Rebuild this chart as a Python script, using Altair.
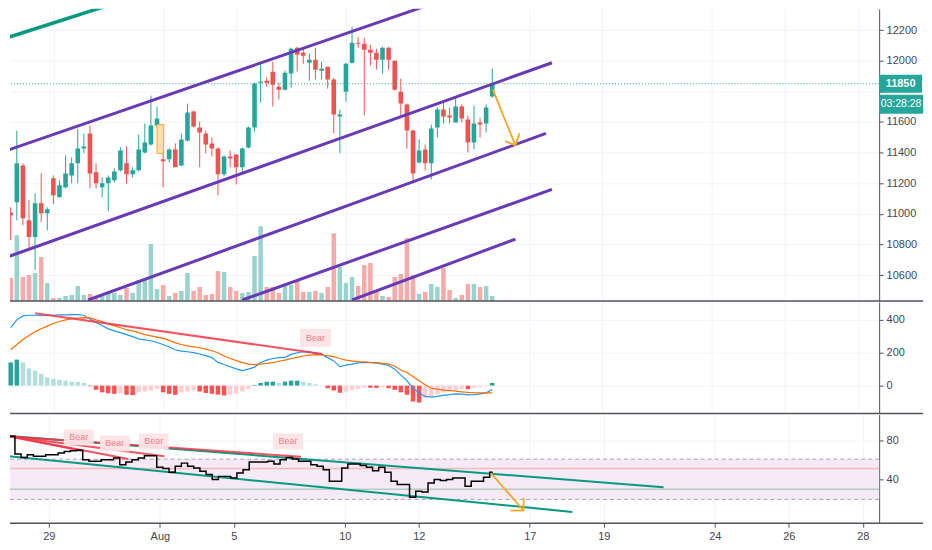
import altair as alt
import pandas as pd
import numpy as np

# ---------------- data (4h bars, index 0 = first bar of Jul 29) ----------------
bar_index = list(range(-7, 73))

opens = [11007, 11076, 11316, 10958, 10848, 11069, 11004, 11232, 11108, 11173,
         11251, 11330, 11427, 11525, 11271, 11173, 11199, 11219, 11284, 11330,
         11258, 11284, 11401, 11453, 11577, 11356, 11356, 11421, 11316, 11479,
         11668, 11564, 11525, 11460, 11427, 11258, 11375, 11388, 11304, 11434,
         11564, 11857, 11870, 11929, 11831, 11811, 11916, 12085, 12052, 11987,
         12007, 11935, 11961, 11877, 11636, 11798, 11987, 12117, 12111, 12072,
         12052, 12007, 12085, 12000, 11798, 11714, 11544, 11336, 11421, 11330,
         11564, 11681, 11642, 11597, 11701, 11616, 11466, 11597, 11590, 11766]
closes = [10991, 11330, 10971, 10848, 11069, 11004, 11030, 11121, 11186, 11264,
          11330, 11427, 11440, 11264, 11199, 11199, 11238, 11277, 11414, 11258,
          11284, 11421, 11466, 11577, 11623, 11343, 11421, 11304, 11486, 11662,
          11570, 11531, 11453, 11427, 11258, 11375, 11362, 11304, 11427, 11564,
          11851, 11864, 11857, 11844, 11811, 11922, 12078, 12039, 12033, 12007,
          11942, 11948, 11877, 11649, 11649, 11981, 12117, 12111, 12072, 12052,
          12007, 12085, 12007, 11811, 11720, 11544, 11264, 11414, 11330, 11557,
          11681, 11636, 11629, 11701, 11623, 11466, 11590, 11583, 11694, 11850]
highs = [11043, 11544, 11330, 11089, 11134, 11264, 11043, 11251, 11219, 11382,
         11369, 11557, 11525, 11577, 11330, 11238, 11251, 11297, 11434, 11440,
         11304, 11518, 11590, 11772, 11701, 11434, 11427, 11460, 11525, 11720,
         11675, 11603, 11544, 11499, 11434, 11382, 11414, 11388, 11434, 11570,
         11857, 11981, 11890, 11994, 11857, 11935, 12085, 12091, 12078, 12046,
         12085, 11994, 11961, 11890, 11681, 11987, 12222, 12157, 12150, 12104,
         12078, 12091, 12091, 12000, 11883, 11720, 11551, 11486, 11453, 11583,
         11694, 11740, 11694, 11759, 11714, 11642, 11707, 11629, 11714, 11948]
lows = [10828, 10958, 10926, 10776, 10633, 10945, 10893, 11063, 11108, 11167,
        11199, 11199, 11395, 11167, 11167, 11108, 11017, 11206, 11277, 11199,
        11238, 11277, 11395, 11447, 11564, 11173, 11336, 11304, 11310, 11473,
        11564, 11304, 11395, 11375, 11121, 11245, 11304, 11193, 11264, 11427,
        11538, 11727, 11831, 11701, 11746, 11805, 11824, 11929, 11981, 11870,
        11877, 11877, 11818, 11525, 11395, 11733, 11981, 12085, 11642, 11968,
        11942, 11916, 11942, 11805, 11629, 11427, 11199, 11330, 11284, 11225,
        11499, 11590, 11590, 11597, 11597, 11401, 11421, 11499, 11531, 11759]
volumes = [460, 1320, 480, 520, 560, 880, 360, 60, 60, 100,
           120, 300, 120, 140, 60, 140, 160, 160, 120, 260,
           160, 420, 420, 1140, 240, 320, 100, 160, 200, 560,
           200, 280, 120, 140, 600, 580, 280, 200, 160, 180,
           900, 1500, 280, 280, 160, 320, 320, 400, 180, 180,
           200, 160, 280, 1360, 680, 360, 480, 300, 720, 760,
           220, 100, 80, 480, 540, 1260, 520, 140, 180, 340,
           280, 660, 220, 60, 120, 340, 340, 280, 300, 100]

macd = [353, 400, 424, 428, 428, 425, 428, 428, 430, 430,
        432, 432, 428, 405, 384, 365, 345, 333, 322, 310,
        298, 284, 278, 273, 262, 250, 235, 218, 210, 206,
        201, 192, 182, 170, 141, 128, 115, 102, 91, 100,
        112, 141, 155, 165, 170, 172, 190, 200, 206, 205,
        198, 190, 170, 150, 115, 125, 131, 138, 141, 140,
        136, 131, 122, 100, 65, 30, -15, -45, -65, -70,
        -65, -60, -55, -50, -52, -56, -55, -50, -44, -24]
signal = [218, 250, 280, 305, 328, 346, 362, 378, 390, 400,
          407, 411, 414, 412, 400, 390, 375, 365, 352, 340,
          333, 322, 310, 302, 295, 287, 275, 260, 250, 242,
          236, 230, 222, 212, 200, 180, 165, 152, 140, 131,
          128, 131, 135, 140, 148, 155, 165, 172, 180, 185,
          188, 186, 182, 176, 165, 155, 150, 146, 144, 141,
          140, 135, 131, 118, 95, 80, 55, 30, 5, -16,
          -22, -28, -30, -34, -38, -41, -43, -44, -44, -44]
hist = [141, 158, 141, 105, 91, 71, 50, 41, 36, 30,
        24, 22, 16, -4, -26, -41, -47, -50, -48, -56,
        -58, -41, -36, -30, -20, -41, -50, -56, -41, -36,
        -30, -36, -45, -50, -55, -60, -55, -48, -36, -20,
        4, 16, 24, 24, 16, 24, 30, 30, 24, 16,
        8, 2, -16, -30, -44, -36, -26, -20, -12, -13,
        -14, -10, -16, -26, -41, -56, -97, -103, -75, -62,
        -52, -42, -33, -27, -20, -22, -13, -8, -4, 16]
rsi = [82.6, 84.0, 65.7, 62.3, 65.0, 63.4, 63.4, 65.0, 65.0, 66.7,
       68.4, 69.1, 69.5, 60.0, 58.3, 58.3, 60.0, 60.0, 61.6, 54.9,
       57.6, 60.0, 61.6, 64.0, 64.0, 52.2, 50.9, 47.1, 53.2, 56.5,
       53.2, 51.5, 48.1, 44.8, 39.7, 43.0, 43.0, 41.3, 46.4, 49.8,
       57.6, 57.6, 57.6, 58.3, 55.5, 60.0, 62.3, 60.6, 58.3, 58.3,
       54.9, 53.2, 49.8, 38.0, 38.0, 51.5, 55.5, 55.5, 54.2, 52.2,
       48.8, 52.2, 47.1, 38.0, 34.6, 34.6, 21.7, 27.8, 27.1, 36.3,
       39.7, 38.7, 39.7, 41.3, 41.3, 32.9, 38.0, 38.0, 42.0, 47.1]

# x-axis tick labels (bar index of each labelled day)
tick_idx = [0, 18, 30, 48, 60, 78, 90, 108, 120, 132]
tick_lbl = ["29", "Aug", "5", "10", "12", "17", "19", "24", "26", "28"]
price_ticks = [10600, 10800, 11000, 11200, 11400, 11600, 11800, 12000, 12200]
last_price = [11850]
countdown = ["03:28:28"]

# drawings on the price pane
purple_x0 = [-7.6, -7.6, 5.7, 31.0, 49.0]
purple_p0 = [11414, 10717, 10437, 10437, 10437]
purple_x1 = [63.5, 81.8, 80.8, 81.8, 75.8]
purple_p1 = [12391, 11987, 11525, 11160, 10835]
teal_x0, teal_p0, teal_x1, teal_p1 = [-7.6], [12150], [11.3], [12391]
hl_x0, hl_x1, hl_p0, hl_p1 = [17.0], [18.1], [11395], [11584]
parrow_x0 = [72.1, 75.8, 75.8]
parrow_p0 = [11811, 11447, 11447]
parrow_x1 = [75.8, 74.15, 76.46]
parrow_p1 = [11447, 11475, 11527]

# drawings on MACD pane
mtrend_x0, mtrend_v0, mtrend_x1, mtrend_v1 = [-3.0], [440], [44.1], [192]
mbear_x, mbear_v = [43.0], [291]

# drawings on RSI pane
band_lo, band_hi = [19.5], [60.5]
rsi_pink, rsi_green = [51], [30]
rteal_x0 = [-7.6, -7.6]
rteal_v0 = [84.7, 64.1]
rteal_x1 = [99.7, 84.9]
rteal_v1 = [31.9, 6.8]
rred_x0 = [-6.26, -6.26, -6.26, -6.26]
rred_v0 = [83.7, 83.7, 83.7, 83.7]
rred_x1 = [5.33, 12.9, 18.75, 40.9]
rred_v1 = [69.1, 60.6, 63.4, 63.0]
rbear_x = [4.85, 10.7, 17.0, 38.8]
rbear_v = [82.6, 76.5, 78.6, 78.6]
rarrow_x0 = [71.7, 77.0, 77.0]
rarrow_v0 = [46.4, 8.2, 8.2]
rarrow_x1 = [77.0, 74.85, 77.0]
rarrow_v1 = [8.2, 8.2, 21.0]

# ---------------- tables ----------------
df = pd.DataFrame({"i": bar_index, "open": opens, "close": closes, "high": highs,
                   "low": lows, "volume": volumes, "macd": macd, "signal": signal,
                   "hist": hist, "rsi": rsi})
up = df["close"] >= df["open"]
df["ccol"] = np.where(up, "#26a69a", "#ef5350")
df["vcol"] = np.where(up, "#99d3cd", "#f7aaa8")
prev = df["hist"].shift(1)
rising = (df["hist"] >= prev) | prev.isna()
df["hcol"] = np.select([(df["hist"] >= 0) & rising, df["hist"] >= 0, ~rising],
                       ["#26a69a", "#b2dfdb", "#ff5252"], "#ffcdd2")

def seg(x0, y0, x1, y1):
    return pd.DataFrame({"x0": x0, "y0": y0, "x1": x1, "y1": y1})

# ---------------- style ----------------
GRID = "#f0f3fa"
AXIS = "#50535e"
TEXT = "#434651"
FONT = "Liberation Sans"
W = 872
RIGHT = 916
H_PRICE, H_MACD, H_RSI = 293, 112, 109
XS = alt.Scale(domain=[-6.3, 134.66], nice=False, zero=False)
YP = alt.Scale(domain=[10431, 12339], nice=False, zero=False)
YV = alt.Scale(domain=[0, 5860], nice=False)
YM = alt.Scale(domain=[-170, 509], nice=False, zero=False)
YR = alt.Scale(domain=[-4.7, 106], nice=False, zero=False)

lbl_expr = "".join(f"datum.value == {v} ? '{l}' : " for v, l in zip(tick_idx, tick_lbl)) + "''"


def x_axis(show):
    return alt.Axis(values=tick_idx, grid=True, gridColor=GRID, labels=show, ticks=show,
                    domain=False, title=None, labelExpr=lbl_expr, tickSize=4,
                    tickColor=AXIS, labelColor=TEXT, labelFontSize=11, labelFont=FONT,
                    labelPadding=3)


def y_axis(values, expr=None):
    kw = dict(orient="right", values=values, grid=True, gridColor=GRID, domainColor=AXIS,
              tickColor=AXIS, tickSize=4, labelColor=TEXT, labelFontSize=11, labelFont=FONT,
              title=None, labelPadding=3, format="d")
    if expr:
        kw["labelExpr"] = expr
    return alt.Axis(**kw)


def box_shape(w, h):
    r = h / w
    return f"M-1,-{r:.3f}L1,-{r:.3f}L1,{r:.3f}L-1,{r:.3f}Z"


PA = y_axis(price_ticks, "datum.value == 11800 ? '' : format(datum.value, 'd')")
MA = y_axis([0, 200, 400])
RA = y_axis([40, 80])


def panel_parts(show_labels, yscale, yaxis):
    xa = x_axis(show_labels)
    X = lambda f: alt.X(f, scale=XS, axis=xa)
    Y = lambda f: alt.Y(f, scale=yscale, axis=yaxis)
    return X, Y


def separator(h):
    return alt.Chart(pd.DataFrame({"a": [0]})).mark_rule(color=AXIS, strokeWidth=1.5).encode(
        x=alt.value(0), x2=alt.value(RIGHT), y=alt.value(h))


# ---------------- price pane ----------------
X, Y = panel_parts(False, YP, PA)
vol = alt.Chart(df).mark_bar(size=4.5, clip=True).encode(
    x=X("i:Q"), y=alt.Y("volume:Q", scale=YV, axis=None),
    color=alt.Color("vcol:N", scale=None))
wick = alt.Chart(df).mark_rule(strokeWidth=1, clip=True).encode(
    x=X("i:Q"), y=Y("low:Q"), y2="high:Q", color=alt.Color("ccol:N", scale=None))
body = alt.Chart(df).mark_bar(size=4.6, clip=True).encode(
    x=X("i:Q"), y=Y("open:Q"), y2="close:Q", color=alt.Color("ccol:N", scale=None))
hl = alt.Chart(seg(hl_x0, hl_p0, hl_x1, hl_p1)).mark_rect(
    fill="#ffe0b2", stroke="#f5a623", strokeWidth=1, clip=True).encode(
    x=X("x0:Q"), x2="x1:Q", y=Y("y0:Q"), y2="y1:Q")
purple = alt.Chart(seg(purple_x0, purple_p0, purple_x1, purple_p1)).mark_rule(
    color="#673ab7", strokeWidth=3, clip=True).encode(
    x=X("x0:Q"), y=Y("y0:Q"), x2="x1:Q", y2="y1:Q")
teal = alt.Chart(seg(teal_x0, teal_p0, teal_x1, teal_p1)).mark_rule(
    color="#089981", strokeWidth=3.5, clip=True).encode(
    x=X("x0:Q"), y=Y("y0:Q"), x2="x1:Q", y2="y1:Q")
parrow = alt.Chart(seg(parrow_x0, parrow_p0, parrow_x1, parrow_p1)).mark_rule(
    color="#f5a623", strokeWidth=1.8, clip=True).encode(
    x=X("x0:Q"), y=Y("y0:Q"), x2="x1:Q", y2="y1:Q")
lp = pd.DataFrame({"p": last_price, "t": [str(v) for v in last_price], "c": countdown})
pline = alt.Chart(lp).mark_rule(color="#26a69a", strokeDash=[1, 2], strokeWidth=1).encode(
    y=Y("p:Q"))
pbox = alt.Chart(lp).mark_point(shape=box_shape(43, 18), size=43 ** 2, filled=True,
                                color="#26a69a", opacity=1).encode(
    x=alt.value(W + 21.5), y=Y("p:Q"))
ptext = alt.Chart(lp).mark_text(color="white", fontSize=11, font=FONT, fontWeight="bold").encode(
    x=alt.value(W + 21.5), y=Y("p:Q"), text="t:N")
cbox = alt.Chart(lp).mark_point(shape=box_shape(44, 19), size=44 ** 2, filled=True,
                                color="#26a69a", opacity=1, yOffset=20.5).encode(
    x=alt.value(W + 22), y=Y("p:Q"))
ctext = alt.Chart(lp).mark_text(color="white", fontSize=10.5, font=FONT, dy=20.5).encode(
    x=alt.value(W + 22), y=Y("p:Q"), text="c:N")

price_layers = alt.layer(wick, body, hl, purple, teal, parrow, pline, pbox, ptext, cbox, ctext)
price = alt.layer(vol, price_layers).resolve_scale(y="independent")
price = alt.layer(price, separator(H_PRICE)).properties(width=W, height=H_PRICE)

# ---------------- MACD pane ----------------
X, Y = panel_parts(False, YM, MA)
hbar = alt.Chart(df).mark_bar(size=4.5).encode(
    x=X("i:Q"), y=Y("hist:Q"), color=alt.Color("hcol:N", scale=None))
mline = alt.Chart(df).mark_line(color="#2196f3", strokeWidth=1.2).encode(x=X("i:Q"), y=Y("macd:Q"))
sline = alt.Chart(df).mark_line(color="#ff6d00", strokeWidth=1.2).encode(x=X("i:Q"), y=Y("signal:Q"))
mtrend = alt.Chart(seg(mtrend_x0, mtrend_v0, mtrend_x1, mtrend_v1)).mark_rule(
    color="#f23645", strokeWidth=2, opacity=0.85).encode(
    x=X("x0:Q"), y=Y("y0:Q"), x2="x1:Q", y2="y1:Q")
mb = pd.DataFrame({"x": mbear_x, "v": mbear_v, "t": ["Bear"] * len(mbear_x)})
mbox = alt.Chart(mb).mark_point(shape=box_shape(31, 18), size=31 ** 2, filled=True,
                                color="#fde4e6", opacity=1).encode(x=X("x:Q"), y=Y("v:Q"))
mtxt = alt.Chart(mb).mark_text(color="#f57f87", fontSize=9, font=FONT).encode(
    x=X("x:Q"), y=Y("v:Q"), text="t:N")
macd_panel = alt.layer(hbar, mline, sline, mtrend, mbox, mtxt, separator(H_MACD)).properties(
    width=W, height=H_MACD)

# ---------------- RSI pane ----------------
X, Y = panel_parts(True, YR, RA)
band = alt.Chart(pd.DataFrame({"lo": band_lo, "hi": band_hi})).mark_rect(
    color="#f7eaf7").encode(x=alt.value(0), x2=alt.value(W), y=Y("lo:Q"), y2="hi:Q")
dash = alt.Chart(pd.DataFrame({"v": band_lo + band_hi})).mark_rule(
    color="#a8a3b8", strokeDash=[4, 3], strokeWidth=1).encode(y=Y("v:Q"))
pinkl = alt.Chart(pd.DataFrame({"v": rsi_pink})).mark_rule(
    color="#f6b9bd", strokeWidth=1.5).encode(y=Y("v:Q"))
greenl = alt.Chart(pd.DataFrame({"v": rsi_green})).mark_rule(
    color="#b4cbbf", strokeWidth=1.5).encode(y=Y("v:Q"))
rline = alt.Chart(df).mark_line(color="#000000", strokeWidth=1.5, interpolate="step",
                                clip=True).encode(x=X("i:Q"), y=Y("rsi:Q"))
rteal = alt.Chart(seg(rteal_x0, rteal_v0, rteal_x1, rteal_v1)).mark_rule(
    color="#089981", strokeWidth=2, clip=True).encode(
    x=X("x0:Q"), y=Y("y0:Q"), x2="x1:Q", y2="y1:Q")
rred = alt.Chart(seg(rred_x0, rred_v0, rred_x1, rred_v1)).mark_rule(
    color="#f23645", strokeWidth=2, opacity=0.85, clip=True).encode(
    x=X("x0:Q"), y=Y("y0:Q"), x2="x1:Q", y2="y1:Q")
rb = pd.DataFrame({"x": rbear_x, "v": rbear_v, "t": ["Bear"] * len(rbear_x)})
rbox = alt.Chart(rb).mark_point(shape=box_shape(30, 16), size=30 ** 2, filled=True,
                                color="#fde4e6", opacity=0.95).encode(x=X("x:Q"), y=Y("v:Q"))
rtxt = alt.Chart(rb).mark_text(color="#f57f87", fontSize=9, font=FONT).encode(
    x=X("x:Q"), y=Y("v:Q"), text="t:N")
rarrow = alt.Chart(seg(rarrow_x0, rarrow_v0, rarrow_x1, rarrow_v1)).mark_rule(
    color="#f5a623", strokeWidth=1.8).encode(
    x=X("x0:Q"), y=Y("y0:Q"), x2="x1:Q", y2="y1:Q")
rsi_panel = alt.layer(band, dash, pinkl, greenl, rteal, rred, rbox, rtxt, rline, rarrow,
                      separator(H_RSI)).properties(width=W, height=H_RSI)

chart = alt.vconcat(price, macd_panel, rsi_panel, spacing=0).properties(
    padding=0, background="white"
).configure_view(strokeWidth=0).configure_axis(labelFont=FONT)

chart.save("out.html", embed_options={"renderer": "svg", "actions": False})
